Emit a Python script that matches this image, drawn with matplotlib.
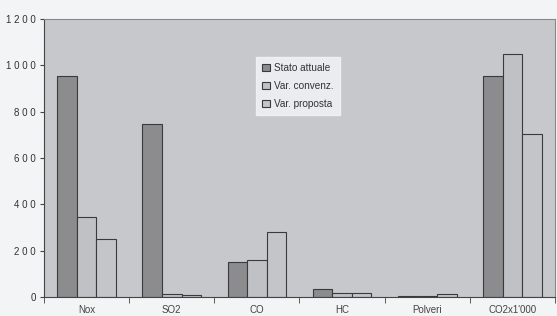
import matplotlib
matplotlib.use("Agg")
import matplotlib.pyplot as plt
import numpy as np

categories = ["Nox", "SO2", "CO", "HC", "Polveri", "CO2x1'000"]
stato_attuale = [955, 745, 150, 33, 6, 955]
var_convenz = [345, 12, 160, 18, 6, 1050]
var_proposta = [250, 8, 280, 18, 12, 705]
series_names = ["Stato attuale", "Var. convenz.", "Var. proposta"]
yticks = [0, 200, 400, 600, 800, 1000, 1200]

plt.rcParams['font.family'] = ['Liberation Sans', 'DejaVu Sans']

fig = plt.figure(figsize=(5.57, 3.16), dpi=100, facecolor="#f3f4f6")
ax = fig.add_axes([44/557, 1-297/316, 511/557, 278/316])
ax.set_facecolor("#c6c8cc")

x = np.arange(len(categories))
w = 0.23
colors = ["#8c8c8e", "#bfc1c4", "#c3c5c8"]
for i, (vals, name) in enumerate(zip([stato_attuale, var_convenz, var_proposta], series_names)):
    ax.bar(x + (i - 1) * w, vals, width=w, color=colors[i], edgecolor="#3a3a3a",
           linewidth=0.8, label=name, zorder=2)

ax.set_xlim(-0.5, len(categories) - 0.5)
ax.set_ylim(0, 1200)
ax.set_yticks(yticks)
ax.set_yticklabels([" ".join(str(v)) for v in yticks], fontsize=7, color="#333333")
ax.set_xticks(x)
ax.set_xticklabels(categories, fontsize=7, color="#444444")
ax.set_xticks(np.arange(len(categories) + 1) - 0.5, minor=True)
ax.tick_params(axis="x", which="major", length=0, pad=6)
ax.tick_params(axis="x", which="minor", length=4, direction="out", color="#444444")
ax.tick_params(axis="y", length=3, color="#444444", pad=3)

for s in ["top", "right"]:
    ax.spines[s].set_color("#888888")
    ax.spines[s].set_linewidth(0.8)
for s in ["left", "bottom"]:
    ax.spines[s].set_color("#444444")
    ax.spines[s].set_linewidth(0.8)

leg = ax.legend(loc="upper left", bbox_to_anchor=(212/511, 1 - 38/278), fontsize=7.2,
                frameon=True, fancybox=False, handlelength=0.8, handleheight=0.8,
                handletextpad=0.4, labelspacing=0.8, borderpad=0.6, borderaxespad=0)
leg.get_frame().set_facecolor("#f5f6f8")
leg.get_frame().set_edgecolor("#f5f6f8")
for t in leg.get_texts():
    t.set_color("#333333")

fig.savefig("out.png", dpi=100, facecolor=fig.get_facecolor())
